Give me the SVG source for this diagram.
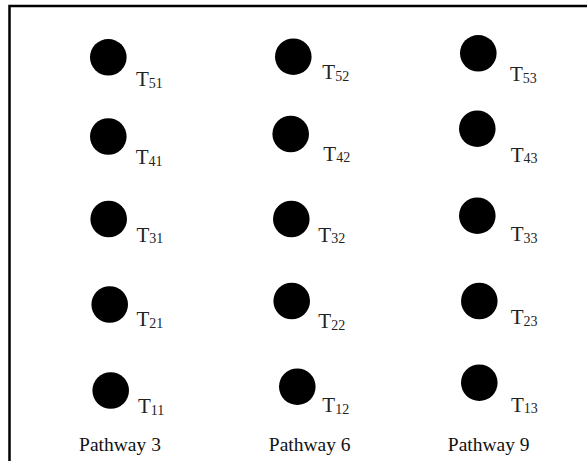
<svg xmlns="http://www.w3.org/2000/svg" width="587" height="461" viewBox="0 0 587 461">
<style>
.dot{fill:#000}
.lbl{font-family:"Liberation Serif","Times New Roman",serif;font-size:21px;fill:#222}
.sub{font-size:14px}
.cap{font-family:"Liberation Serif","Times New Roman",serif;font-size:19.5px;fill:#111;text-anchor:middle}
.frame{fill:none;stroke:#000;stroke-width:2.5}
</style>
<rect width="587" height="461" fill="#fff"/>
<path class="frame" d="M9.5,461 V6 H587"/>
<g id="connectors"></g>
<g id="T51"><circle class="dot" cx="108.3" cy="57.3" r="18.3"/><text class="lbl" x="136" y="86">T<tspan class="sub" dy="1.5">51</tspan></text></g>
<g id="T41"><circle class="dot" cx="108.3" cy="136.5" r="18.3"/><text class="lbl" x="135.7" y="164">T<tspan class="sub" dy="1.5">41</tspan></text></g>
<g id="T31"><circle class="dot" cx="108.7" cy="219" r="18.3"/><text class="lbl" x="136.5" y="241.5">T<tspan class="sub" dy="1.5">31</tspan></text></g>
<g id="T21"><circle class="dot" cx="109.7" cy="304.5" r="18.3"/><text class="lbl" x="136.5" y="326">T<tspan class="sub" dy="1.5">21</tspan></text></g>
<g id="T11"><circle class="dot" cx="110.7" cy="390.5" r="18.3"/><text class="lbl" x="138" y="413">T<tspan class="sub" dy="1.5">11</tspan></text></g>
<g id="T52"><circle class="dot" cx="293.3" cy="56.7" r="18.3"/><text class="lbl" x="322.3" y="79.3">T<tspan class="sub" dy="1.5">52</tspan></text></g>
<g id="T42"><circle class="dot" cx="290.7" cy="134" r="18.3"/><text class="lbl" x="323.3" y="160.7">T<tspan class="sub" dy="1.5">42</tspan></text></g>
<g id="T32"><circle class="dot" cx="291.3" cy="219" r="18.3"/><text class="lbl" x="318.3" y="241.7">T<tspan class="sub" dy="1.5">32</tspan></text></g>
<g id="T22"><circle class="dot" cx="291.7" cy="301" r="18.3"/><text class="lbl" x="318.3" y="328.3">T<tspan class="sub" dy="1.5">22</tspan></text></g>
<g id="T12"><circle class="dot" cx="297.3" cy="386.7" r="18.3"/><text class="lbl" x="322.3" y="412.3">T<tspan class="sub" dy="1.5">12</tspan></text></g>
<g id="T53"><circle class="dot" cx="478.3" cy="53.3" r="18.3"/><text class="lbl" x="510" y="81">T<tspan class="sub" dy="1.5">53</tspan></text></g>
<g id="T43"><circle class="dot" cx="477.3" cy="128.7" r="18.3"/><text class="lbl" x="510.7" y="161.7">T<tspan class="sub" dy="1.5">43</tspan></text></g>
<g id="T33"><circle class="dot" cx="477.3" cy="215.7" r="18.3"/><text class="lbl" x="510.7" y="241">T<tspan class="sub" dy="1.5">33</tspan></text></g>
<g id="T23"><circle class="dot" cx="479.3" cy="301" r="18.3"/><text class="lbl" x="510.7" y="324.3">T<tspan class="sub" dy="1.5">23</tspan></text></g>
<g id="T13"><circle class="dot" cx="479.3" cy="382.7" r="18.3"/><text class="lbl" x="511" y="411.7">T<tspan class="sub" dy="1.5">13</tspan></text></g>
<g id="captions">
<text class="cap" x="120" y="451">Pathway 3</text>
<text class="cap" x="309.7" y="451">Pathway 6</text>
<text class="cap" x="488.7" y="451">Pathway 9</text>
</g>
</svg>
